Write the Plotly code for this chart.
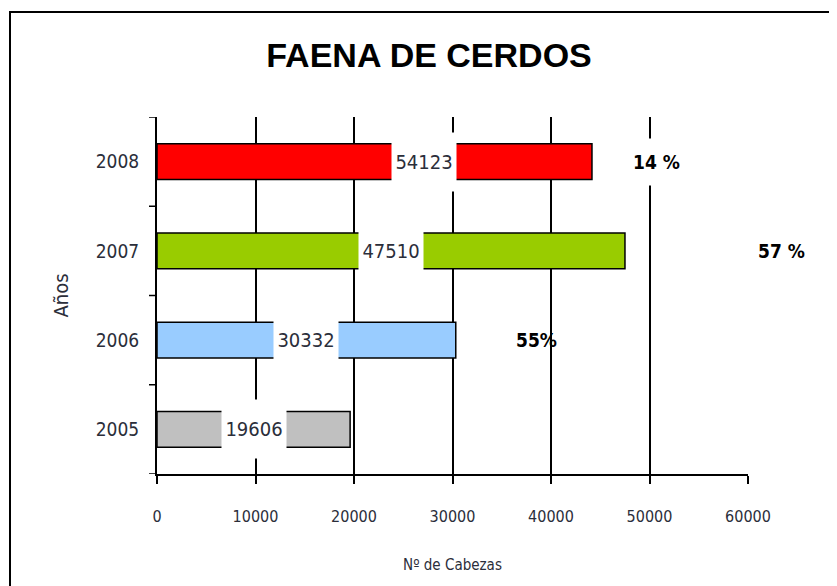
import plotly.graph_objects as go

# 元データ
years = ["2005", "2006", "2007", "2008"]
bar_lengths = [19606, 30332, 47510, 44160]   # 描画されている棒の長さ
bar_labels = [19606, 30332, 47510, 54123]    # 棒に書かれている数値
bar_colors = ["#C0C0C0", "#99CCFF", "#99CC00", "#FF0000"]
pct_years = ["2006", "2007", "2008"]
pct_labels = ["55%", "57 %", "14 %"]
pct_pos = [38500, 63400, 50700]              # ラベルの横位置 (x 軸の値)
pct_bg = ["rgba(0,0,0,0)", "white", "white"]
x_ticks = [0, 10000, 20000, 30000, 40000, 50000, 60000]

X_MAX = 60000
W, H = 837, 586
OFF = 8  # ページ body の余白分をずらす
NARROW = "DejaVu Sans Condensed, Liberation Sans Narrow, Arial Narrow, sans-serif"
TXT = "#2B2E3A"

fig = go.Figure()
fig.add_trace(go.Bar(
    y=list(range(len(years))),
    x=bar_lengths,
    orientation="h",
    width=0.4,
    marker=dict(color=bar_colors, line=dict(color="black", width=1.5)),
    showlegend=False,
    hovertext=years,
    hoverinfo="x+text",
))

cat_index = {y: i for i, y in enumerate(years)}

annotations = []
for yr, v in zip(years, bar_labels):
    annotations.append(dict(
        x=v / 2, y=cat_index[yr], xref="x", yref="y",
        text=str(v), showarrow=False,
        font=dict(family=NARROW, size=20, color=TXT),
        width=60, height=54, align="center", valign="middle",
        bgcolor="white", borderpad=2,
    ))

for yr, t, p, bg in zip(pct_years, pct_labels, pct_pos, pct_bg):
    annotations.append(dict(
        x=p / X_MAX, y=(cat_index[yr] + 0.5) / len(years), xref="paper", yref="paper",
        xanchor="center", yanchor="middle",
        text=f"<b>{t}</b>", showarrow=False,
        font=dict(family=NARROW, size=19, color="black"),
        bgcolor=bg, borderpad=12,
    ))

pl, pr, pt, pb = 157 - OFF, 748 - OFF, 117 - OFF, 474 - OFF
pw, ph = pr - pl, pb - pt

fig.update_layout(
    width=W,
    height=H,
    margin=dict(l=pl, r=W - pr, t=pt, b=H - pb),
    paper_bgcolor="white",
    plot_bgcolor="white",
    title=dict(
        text="<b>FAENA DE CERDOS</b>",
        x=(429 - OFF) / W, xanchor="center", y=1 - (55 - OFF) / H, yanchor="middle",
        font=dict(family="Liberation Sans, Arial, sans-serif", size=34, color="black"),
    ),
    xaxis=dict(
        range=[0, X_MAX],
        tickvals=x_ticks,
        ticktext=[str(t) for t in x_ticks],
        showgrid=True, gridcolor="black", gridwidth=1.5,
        showline=True, linecolor="black", linewidth=2,
        ticks="outside", ticklen=8, tickcolor="black", tickwidth=1.5,
        ticklabelstandoff=19,
        zeroline=False,
        tickfont=dict(family=NARROW, size=16, color=TXT),
        title=dict(text="Nº de Cabezas", font=dict(family=NARROW, size=15, color=TXT), standoff=34),
    ),
    yaxis=dict(
        range=[-0.5, len(years) - 0.5],
        tickvals=list(range(len(years))),
        ticktext=years,
        showgrid=False,
        showline=True, linecolor="black", linewidth=2,
        ticks="",
        ticklabelstandoff=12,
        zeroline=False,
        tickfont=dict(family=NARROW, size=19, color=TXT),
        title=dict(text="Años", font=dict(family=NARROW, size=20, color=TXT), standoff=22),
    ),
    annotations=annotations,
)

# y 軸の区切り目盛り (カテゴリ境界)
shapes = []
for i in range(len(years) + 1):
    shapes.append(dict(
        type="line", xref="paper", yref="y",
        x0=-8 / pw, x1=0, y0=i - 0.5, y1=i - 0.5,
        line=dict(color="black", width=1.5),
    ))
# 外枠
shapes.append(dict(
    type="rect", xref="paper", yref="paper",
    x0=(10 - OFF - pl) / pw, x1=1.3, y0=-0.5, y1=(pb - (12 - OFF)) / ph,
    line=dict(color="black", width=2), fillcolor="rgba(0,0,0,0)", layer="below",
))
fig.update_layout(shapes=shapes)

fig.write_html("out.html")
